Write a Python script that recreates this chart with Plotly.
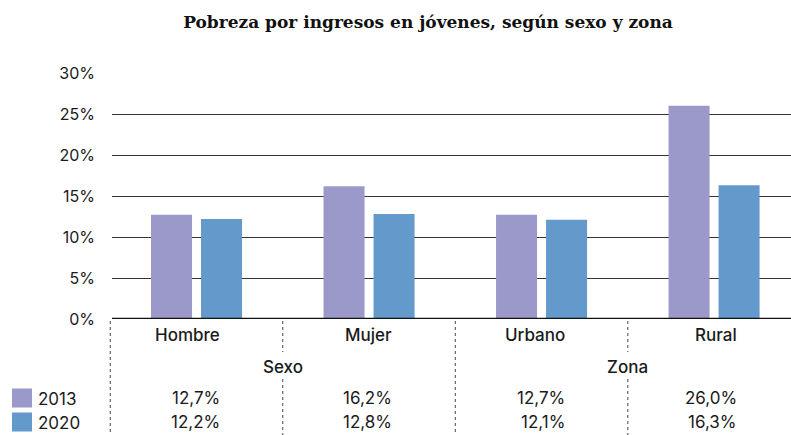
import plotly.graph_objects as go

# ---- data ----
categories = ["Hombre", "Mujer", "Urbano", "Rural"]
groups = ["Sexo", "Zona"]
years = ["2013", "2020"]
values_2013 = [12.7, 16.2, 12.7, 26.0]
values_2020 = [12.2, 12.8, 12.1, 16.3]
value_labels_2013 = ["12,7%", "16,2%", "12,7%", "26,0%"]
value_labels_2020 = ["12,2%", "12,8%", "12,1%", "16,3%"]
y_tick_vals = [0, 5, 10, 15, 20, 25, 30]
y_tick_labels = ["0%", "5%", "10%", "15%", "20%", "25%", "30%"]
title_text = "Pobreza por ingresos en jóvenes, según sexo y zona"

# ---- style ----
COLORS = ["#9b99ca", "#6499cc"]
W, H = 791, 435
ML, MR, MT, MB = 112, 0, 73, 116
PW, PH = W - ML - MR, H - MT - MB
XR = [-0.49, 3.446]
YR = [0, 30]
FONT = "Inter"
TXT = "#1a1a1a"
FS = 17

def xp(xd):
    return (xd - XR[0]) / (XR[1] - XR[0])

def xpx(px):
    return (px - ML) / PW

def ypx(py):
    return (H - MB - py) / PH

x_idx = list(range(len(categories)))

fig = go.Figure()
for yr, vals, col in zip(years, [values_2013, values_2020], COLORS):
    fig.add_trace(go.Bar(x=x_idx, y=vals, name=yr, marker=dict(color=col, line=dict(width=0)),
                         hoverinfo="skip", showlegend=False))

shapes = []
annotations = []

# zero line
shapes.append(dict(type="line", xref="paper", yref="y", x0=0, x1=1, y0=0, y1=0,
                   line=dict(color="#111111", width=2.5), layer="above"))

# table rows (pixel positions of layout)
ROW_CAT, ROW_GROUP, ROW_V1, ROW_V2 = 335, 366.5, 398, 422
TOP_SEP = 321
OFF = 0.145

for i, c in enumerate(categories):
    annotations.append(dict(text=c, x=xp(i + OFF), y=ypx(ROW_CAT), xref="paper", yref="paper",
                            xanchor="right", yanchor="middle", showarrow=False,
                            font=dict(family=FONT, size=FS, color=TXT, weight=500)))
    for lab, row in ((value_labels_2013[i], ROW_V1), (value_labels_2020[i], ROW_V2)):
        annotations.append(dict(text=lab, x=xp(i + OFF), y=ypx(row), xref="paper", yref="paper",
                                xanchor="right", yanchor="middle", showarrow=False,
                                font=dict(family=FONT, size=FS, color=TXT)))

for g_i, g in enumerate(groups):
    annotations.append(dict(text=g, x=xp(2 * g_i + 0.5), y=ypx(ROW_GROUP), xref="paper", yref="paper",
                            xanchor="center", yanchor="middle", showarrow=False,
                            font=dict(family=FONT, size=FS, color=TXT, weight=500)))

# dotted separators
dot = dict(color="#444444", width=1, dash="dot")
for g_i in range(len(groups)):
    left = 2 * g_i - 0.5
    mid = 2 * g_i + 0.5
    shapes.append(dict(type="line", xref="paper", yref="paper", x0=xp(left), x1=xp(left),
                       y0=ypx(TOP_SEP), y1=ypx(H), line=dot))
    shapes.append(dict(type="line", xref="paper", yref="paper", x0=xp(mid), x1=xp(mid),
                       y0=ypx(TOP_SEP), y1=ypx(352), line=dot))
    shapes.append(dict(type="line", xref="paper", yref="paper", x0=xp(mid), x1=xp(mid),
                       y0=ypx(379), y1=ypx(H), line=dot))

# legend
for yr, col, row in zip(years, COLORS, [ROW_V1, ROW_V2]):
    shapes.append(dict(type="rect", xref="paper", yref="paper", x0=xpx(12), x1=xpx(32),
                       y0=ypx(row - 9.5), y1=ypx(row + 9.5), fillcolor=col, line=dict(width=0)))
    annotations.append(dict(text=yr, x=xpx(36), y=ypx(row + 1), xref="paper", yref="paper",
                            xanchor="left", yanchor="middle", showarrow=False,
                            font=dict(family=FONT, size=FS, color=TXT)))

fig.update_layout(
    width=W, height=H,
    margin=dict(l=ML, r=MR, t=MT, b=MB),
    paper_bgcolor="white", plot_bgcolor="white",
    barmode="group", bargap=0.42, bargroupgap=0.18,
    title=dict(text=title_text, x=428 / W, xanchor="center", y=1 - 22 / H, yanchor="middle",
               font=dict(family="DejaVu Serif", size=17, color="#111111", weight=600)),
    xaxis=dict(range=XR, showticklabels=False, showgrid=False, zeroline=False, showline=False,
               ticks="", fixedrange=True),
    yaxis=dict(range=YR, tickvals=y_tick_vals, ticktext=y_tick_labels, showgrid=True,
               gridcolor="#333333", gridwidth=1.4, zeroline=False, showline=False, ticks="",
               ticklabelstandoff=16, tickfont=dict(family=FONT, size=16, color=TXT), fixedrange=True),
    shapes=shapes, annotations=annotations,
    showlegend=False,
)

fig.write_html("out.html", config={"displayModeBar": False},
               post_script="document.body.style.margin='0';document.body.style.overflow='hidden';")
